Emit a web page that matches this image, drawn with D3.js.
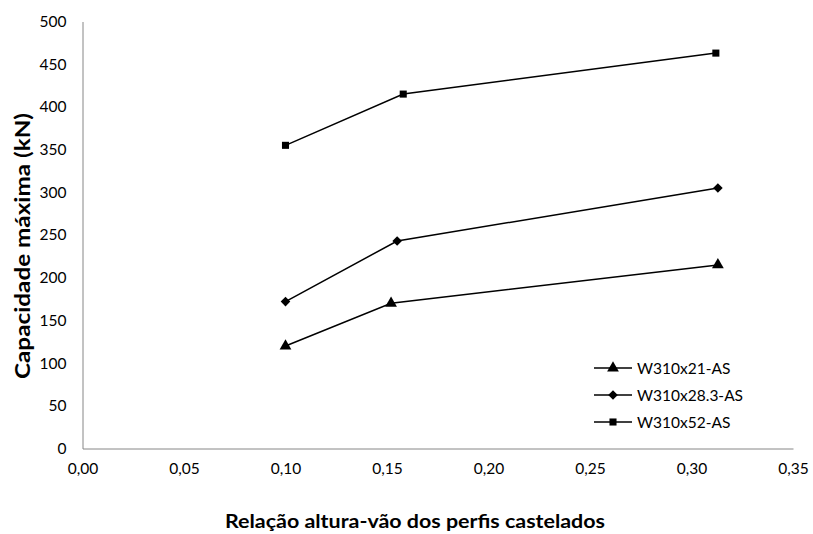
<!DOCTYPE html>
<html><head><meta charset="utf-8">
<script src="https://cdn.jsdelivr.net/npm/d3@7"></script>
<style>
body{margin:0;background:#fff;}
text{font-family:Lato,"Open Sans",sans-serif;fill:#000;}
</style></head>
<body><svg id="c" width="813" height="534"></svg>
<script>
const seriesNames = ["W310x21-AS", "W310x28.3-AS", "W310x52-AS"];
const xW21 = [0.100, 0.152, 0.313];
const yW21 = [120, 170, 215];
const xW28 = [0.100, 0.155, 0.313];
const yW28 = [172, 243, 305];
const xW52 = [0.100, 0.158, 0.312];
const yW52 = [355, 415, 463];
const xTicks = [0, 0.05, 0.10, 0.15, 0.20, 0.25, 0.30, 0.35];
const yTicks = [0, 50, 100, 150, 200, 250, 300, 350, 400, 450, 500];
const xTitle = "Relação altura-vão dos perfis castelados";
const yTitle = "Capacidade máxima (kN)";

const series = [
  {name: seriesNames[0], xs: xW21, ys: yW21, sym: d3.symbolTriangle, size: 60, rot: 0},
  {name: seriesNames[1], xs: xW28, ys: yW28, sym: d3.symbolSquare, size: 46, rot: 45},
  {name: seriesNames[2], xs: xW52, ys: yW52, sym: d3.symbolSquare, size: 50, rot: 0}
];

const svg = d3.select("#c");
const x = d3.scaleLinear().domain([0, 0.35]).range([82.5, 793]);
const y = d3.scaleLinear().domain([0, 500]).range([448.5, 21.5]);

// axes
const xAxis = svg.append("g").attr("transform", `translate(0,${y(0)})`)
  .call(d3.axisBottom(x).tickValues(xTicks).tickSize(0).tickPadding(14)
    .tickFormat(d => d3.format(".2f")(d).replace(".", ",")));
xAxis.select(".domain").attr("stroke", "#868686").attr("stroke-width", 1);
xAxis.selectAll("text").style("font-size", "15.5px").attr("font-family", null);

const yAxis = svg.append("g").attr("transform", `translate(${x(0)},0)`)
  .call(d3.axisLeft(y).tickValues(yTicks).tickSize(0).tickPadding(16));
yAxis.select(".domain").attr("stroke", "#868686").attr("stroke-width", 1);
yAxis.selectAll("text").style("font-size", "15.5px").attr("font-family", null);

// titles
svg.append("text").attr("x", 415).attr("y", 528).attr("text-anchor", "middle")
  .attr("textLength", 380).attr("lengthAdjust", "spacingAndGlyphs")
  .style("font-size", "19px").style("font-weight", "bold").text(xTitle);
svg.append("text").attr("transform", `translate(30,246) rotate(-90)`)
  .attr("text-anchor", "middle")
  .attr("textLength", 266).attr("lengthAdjust", "spacingAndGlyphs")
  .style("font-size", "20px").style("font-weight", "bold").text(yTitle);

// series
const line = d3.line().x(d => x(d[0])).y(d => y(d[1]));
series.forEach(s => {
  const pts = s.xs.map((v, i) => [v, s.ys[i]]);
  svg.append("path").datum(pts).attr("d", line).attr("fill", "none")
    .attr("stroke", "#000").attr("stroke-width", 1.5);
  svg.selectAll(null).data(pts).enter().append("path")
    .attr("d", d3.symbol().type(s.sym).size(s.size))
    .attr("transform", d => `translate(${x(d[0])},${y(d[1])}) rotate(${s.rot})`)
    .attr("fill", "#000");
});

// legend
const lg = svg.append("g");
series.forEach((s, i) => {
  const ly = 368 + i * 27;
  lg.append("line").attr("x1", 594).attr("x2", 632).attr("y1", ly).attr("y2", ly)
    .attr("stroke", "#000").attr("stroke-width", 1.5);
  lg.append("path").attr("d", d3.symbol().type(s.sym).size(s.size))
    .attr("transform", `translate(613,${ly}) rotate(${s.rot})`).attr("fill", "#000");
  lg.append("text").attr("x", 637).attr("y", ly + 5.5).style("font-size", "15.5px").text(s.name);
});
</script></body></html>
